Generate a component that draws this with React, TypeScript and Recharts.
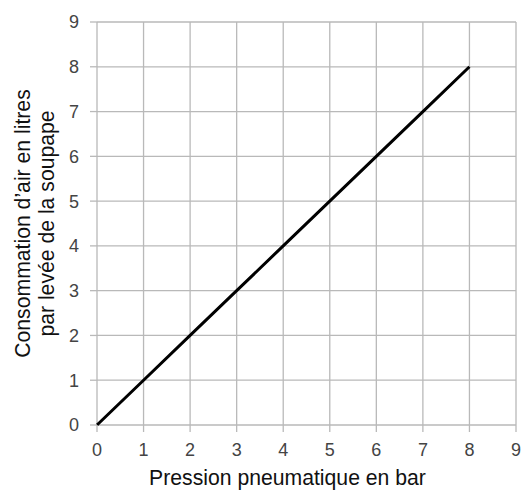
import { CartesianGrid, Label, Line, LineChart, XAxis, YAxis } from "recharts";

// Air consumption per valve lift vs pneumatic pressure
const pressure = [0, 1, 2, 3, 4, 5, 6, 7, 8];
const consumption = [0, 1, 2, 3, 4, 5, 6, 7, 8];
const xTicks = [0, 1, 2, 3, 4, 5, 6, 7, 8, 9];
const yTicks = [0, 1, 2, 3, 4, 5, 6, 7, 8, 9];
const xTitle = "Pression pneumatique en bar";
const yTitleLines = ["Consommation d\u2019air en litres", "par levée de la soupape"];

const data = pressure.map((p, i) => ({ p, c: consumption[i] }));

const FONT = '"Liberation Sans", Arial, sans-serif';
const GRID = "#b9b9b9";

function YTitle(props: any) {
  const vb = props.viewBox || {};
  const cy = vb.y + vb.height / 2;
  return (
    <g>
      {yTitleLines.map((t, i) => (
        <text
          key={i}
          x={0}
          y={0}
          transform={`translate(${30 + i * 24}, ${cy}) rotate(-90)`}
          textAnchor="middle"
          fontSize={21.2}
          fontFamily={FONT}
          fill="#111"
        >
          {t}
        </text>
      ))}
    </g>
  );
}

export default function App() {
  return (
    <div style={{ position: "absolute", left: 0, top: 0, background: "#fff" }}>
      <LineChart
        width={522}
        height={492}
        data={data}
        margin={{ top: 22, right: 6, left: 0, bottom: 7 }}
      >
        <CartesianGrid stroke={GRID} strokeWidth={1.3} />
        <XAxis
          dataKey="p"
          type="number"
          domain={[0, 9]}
          ticks={xTicks}
          interval={0}
          height={60}
          axisLine={false}
          tickLine={{ stroke: GRID, strokeWidth: 1.3 }}
          tickSize={7}
          tickMargin={11}
          tick={{ fill: "#444", fontSize: 18, fontFamily: FONT }}
        >
          <Label
            value={xTitle}
            position="insideBottom"
            offset={0}
            dx={-19}
            fontSize={21.2}
            fontFamily={FONT}
            fill="#111"
          />
        </XAxis>
        <YAxis
          type="number"
          domain={[0, 9]}
          ticks={yTicks}
          interval={0}
          width={97}
          axisLine={false}
          tickLine={{ stroke: GRID, strokeWidth: 1.3 }}
          tickSize={7}
          tickMargin={11}
          tick={{ fill: "#444", fontSize: 18, fontFamily: FONT }}
        >
          <Label content={<YTitle />} />
        </YAxis>
        <Line
          dataKey="c"
          type="linear"
          stroke="#000"
          strokeWidth={3}
          dot={false}
          activeDot={false}
          isAnimationActive={false}
        />
      </LineChart>
    </div>
  );
}
